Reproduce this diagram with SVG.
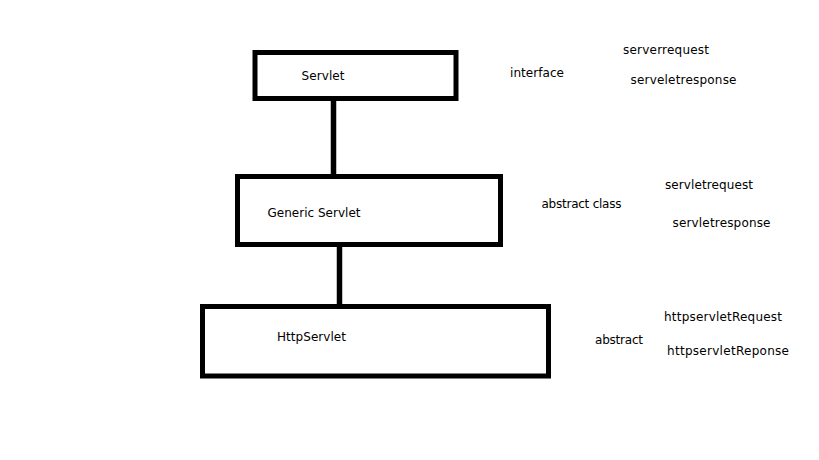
<svg xmlns="http://www.w3.org/2000/svg" width="819" height="460" viewBox="0 0 819 460">
<style>
.box{fill:#fff;stroke:#000;stroke-width:5}
.con{stroke:#000;stroke-width:5.5;fill:none}
text{font-family:"DejaVu Sans","Verdana",sans-serif;font-size:12px;fill:#000}
</style>
<rect x="0" y="0" width="819" height="460" fill="#fff"/>
<g id="connectors">
<line class="con" x1="333.5" y1="98" x2="333.5" y2="177"/>
<line class="con" x1="339.5" y1="244" x2="339.5" y2="307"/>
</g>
<g id="servlet">
<rect class="box" x="255" y="52.5" width="201" height="46"/>
<text x="301.5" y="79.5" textLength="43" lengthAdjust="spacing">Servlet</text>
</g>
<g id="generic-servlet">
<rect class="box" x="237.5" y="176.5" width="263" height="68"/>
<text x="267.5" y="217" textLength="93" lengthAdjust="spacing">Generic Servlet</text>
</g>
<g id="http-servlet">
<rect class="box" x="202.5" y="306.5" width="346" height="69.5"/>
<text x="277" y="341" textLength="69" lengthAdjust="spacing">HttpServlet</text>
</g>
<g id="labels">
<text x="510" y="77" textLength="54" lengthAdjust="spacing">interface</text>
<text x="623" y="54" textLength="86" lengthAdjust="spacing">serverrequest</text>
<text x="630.5" y="84" textLength="106" lengthAdjust="spacing">serveletresponse</text>
<text x="541.5" y="207.5" textLength="80" lengthAdjust="spacing">abstract class</text>
<text x="665" y="189" textLength="88" lengthAdjust="spacing">servletrequest</text>
<text x="672.5" y="226.5" textLength="98" lengthAdjust="spacing">servletresponse</text>
<text x="595" y="343.5" textLength="48" lengthAdjust="spacing">abstract</text>
<text x="664" y="320.5" textLength="118" lengthAdjust="spacing">httpservletRequest</text>
<text x="667" y="354.5" textLength="122" lengthAdjust="spacing">httpservletReponse</text>
</g>
</svg>
